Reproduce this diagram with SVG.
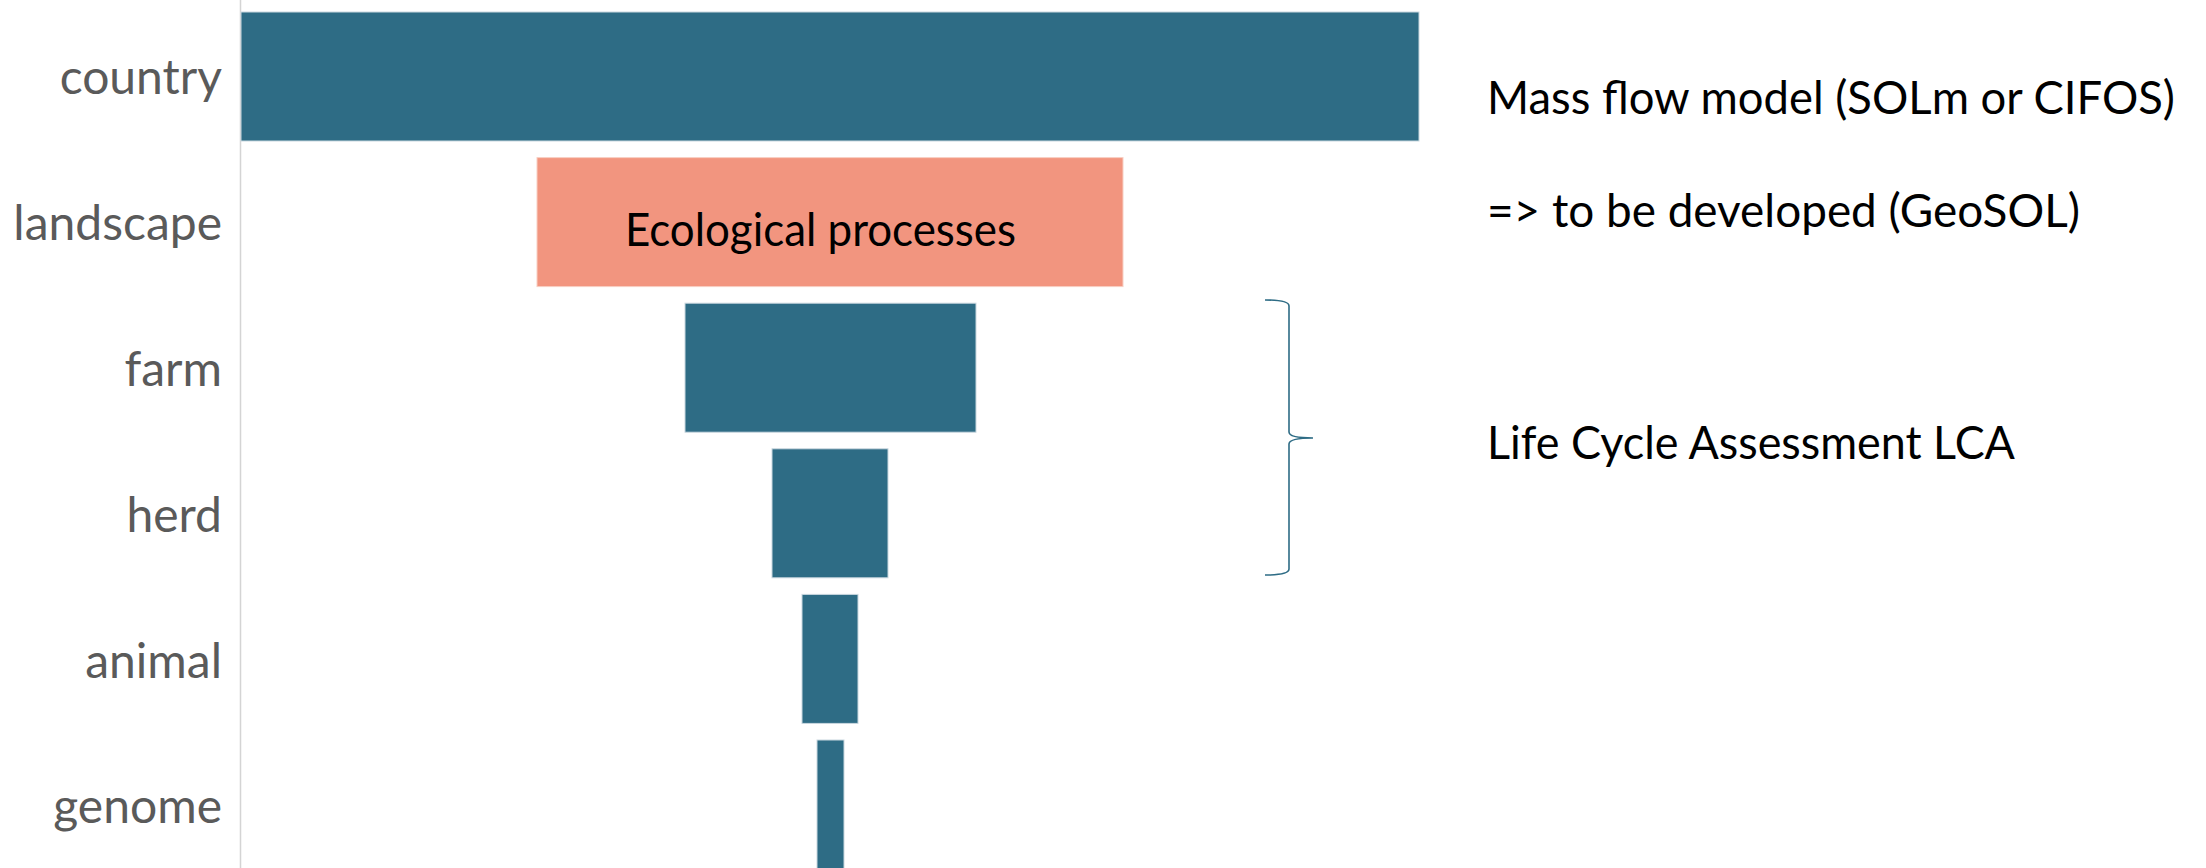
<svg xmlns="http://www.w3.org/2000/svg" width="2206" height="868" viewBox="0 0 2206 868">
<style>
.bar{fill:#2E6C85;stroke:#C9D8DF;stroke-width:1}
.eco{fill:#F2957F;stroke:#F8CFC4;stroke-width:1}
.lbl{font-family:Lato,"Open Sans","Liberation Sans",sans-serif;font-size:48px;fill:#5A5A5A;text-anchor:end}
.txt{font-family:Lato,"Open Sans","Liberation Sans",sans-serif;font-size:46px;fill:#000}
.axis{stroke:#D4D4D4;stroke-width:1.5;fill:none}
.brace{stroke:#2E6C85;stroke-width:1.6;fill:none}
</style>
<rect width="2206" height="868" fill="#FFFFFF"/>
<g id="axis"><line class="axis" x1="240.5" y1="0" x2="240.5" y2="868"/></g>
<g id="country"><rect class="bar" x="241" y="12" width="1178" height="129"/><text class="lbl" x="222" y="94">country</text></g>
<g id="landscape"><rect class="eco" x="537" y="157.6" width="586" height="129"/><text class="lbl" x="222" y="240">landscape</text><text class="txt" x="625" y="246" textLength="391" lengthAdjust="spacingAndGlyphs">Ecological processes</text></g>
<g id="farm"><rect class="bar" x="685" y="303.2" width="291" height="129"/><text class="lbl" x="222" y="386">farm</text></g>
<g id="herd"><rect class="bar" x="772" y="448.8" width="116" height="129"/><text class="lbl" x="222" y="532">herd</text></g>
<g id="animal"><rect class="bar" x="802" y="594.4" width="56" height="129"/><text class="lbl" x="222" y="678">animal</text></g>
<g id="genome"><rect class="bar" x="817" y="740" width="27" height="129"/><text class="lbl" x="222" y="823">genome</text></g>
<g id="connectors"><path class="brace" d="M1265,300 Q1289,300 1289,306 L1289,432 Q1289,438 1313,438 Q1289,438 1289,444 L1289,569 Q1289,575 1265,575"/></g>
<g id="mass-flow"><text class="txt" x="1487" y="114" textLength="688" lengthAdjust="spacingAndGlyphs">Mass flow model (SOLm or CIFOS)</text></g>
<g id="geosol"><text class="txt" x="1487" y="227" textLength="593" lengthAdjust="spacingAndGlyphs">=&gt; to be developed (GeoSOL)</text></g>
<g id="lca"><text class="txt" x="1487" y="459" textLength="528" lengthAdjust="spacingAndGlyphs">Life Cycle Assessment LCA</text></g>
</svg>
